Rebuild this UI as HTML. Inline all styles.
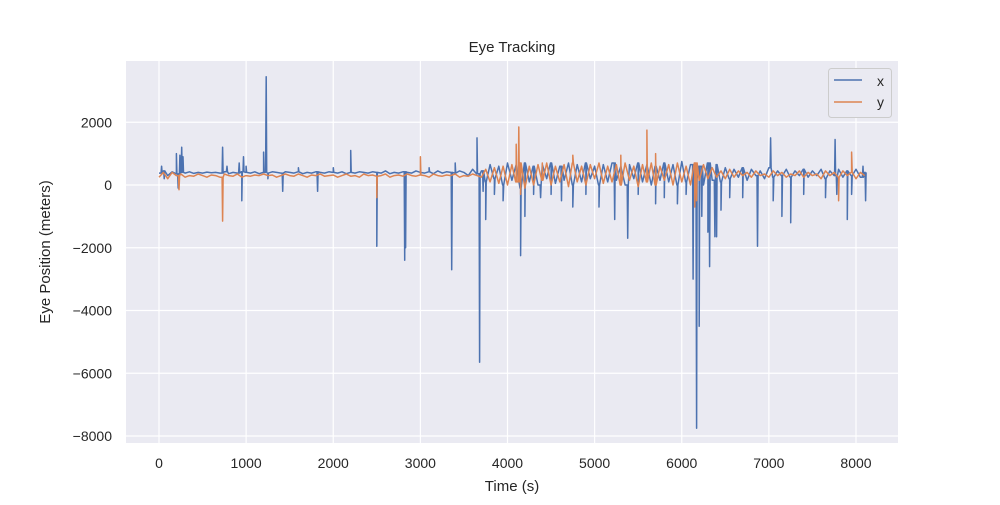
<!DOCTYPE html>
<html><head><meta charset="utf-8"><style>
body{margin:0;background:#fff;}
svg text{font-family:"Liberation Sans","DejaVu Sans",sans-serif;fill:#262626;}
</style></head><body>
<svg id="chart" width="1000" height="500" xmlns="http://www.w3.org/2000/svg">
<rect x="126" y="61" width="772" height="382" fill="#eaeaf2"/>
<g id="grid"></g>
<g id="plot"></g>
<g id="ticks"></g>
<text x="512" y="52" text-anchor="middle" font-size="15">Eye Tracking</text>
<text x="512" y="491" text-anchor="middle" font-size="15">Time (s)</text>
<text x="50" y="252" text-anchor="middle" font-size="15" transform="rotate(-90 50 252)">Eye Position (meters)</text>
<g>
<rect x="828.5" y="68.5" width="63" height="49" rx="3" fill="#eaeaf2" stroke="#cccccc"/>
<line x1="834" y1="80" x2="862" y2="80" stroke="#4c72b0" stroke-width="1.5"/>
<text x="877" y="86" font-size="14">x</text>
<line x1="834" y1="102" x2="862" y2="102" stroke="#dd8452" stroke-width="1.5"/>
<text x="877" y="107" font-size="14">y</text>
</g>
</svg>
<script>
const xTicks=[0,1000,2000,3000,4000,5000,6000,7000,8000];
const yTicks=[2000,0,-2000,-4000,-6000,-8000];
const yTickLabels=["2000","0","\u22122000","\u22124000","\u22126000","\u22128000"];
const baseStep=50;
// x baseline samples every 50 s from 0 to 8100
const xBase=[380,450,300,420,360,400,380,420,370,400,380,410,390,400,380,420,360,400,380,420,
400,380,420,360,400,380,420,400,380,420,400,380,420,360,400,380,420,400,380,420,
400,380,420,360,400,380,420,400,380,420,400,380,450,360,400,380,420,400,380,450,
400,380,420,360,450,380,420,400,380,450,400,300,500,360,450,100,650,200,600,0,
700,150,650,-100,700,100,600,0,650,200,700,50,600,150,700,0,650,100,700,200,
600,0,650,100,700,150,600,0,650,200,700,100,650,0,600,150,700,100,650,0,
750,100,650,200,600,0,700,150,650,100,550,200,500,250,550,150,500,300,450,200,
550,250,450,300,500,250,450,300,500,250,450,300,500,200,450,300,500,250,450,300,
500,250,400];
// y baseline samples every 50 s from 0 to 8100
const yBase=[250,400,200,400,300,350,250,300,280,350,300,250,320,300,250,350,300,280,350,250,
300,280,320,300,350,300,320,250,300,350,300,280,350,300,250,320,300,350,280,300,
320,250,300,350,280,300,250,350,300,320,280,300,350,250,300,320,280,350,300,280,
320,300,250,350,300,280,320,300,350,250,300,280,350,300,250,500,100,550,50,600,
0,650,100,700,-100,600,0,650,150,700,0,600,100,650,-50,700,100,600,0,650,
200,700,50,600,100,650,0,700,150,600,-50,650,100,700,0,600,150,650,0,700,
100,600,0,700,150,650,200,550,250,450,200,500,250,450,300,400,250,450,300,350,
250,450,300,400,250,350,300,450,250,400,300,350,200,450,300,400,250,450,300,400,
200,400,300];
const xSpikeT=[30,60,200,220,240,260,275,730,780,920,950,970,1000,1200,1230,1250,1420,1600,1820,2000,2200,2500,2820,2830,3100,3360,3400,3650,3680,3720,3750,3850,3950,4150,4200,4300,4380,4500,4620,4750,4900,5050,5230,5380,5500,5700,5800,5950,6050,6130,6170,6200,6230,6300,6320,6380,6400,6450,6550,6700,6870,7020,7050,7150,7250,7400,7650,7760,7780,7900,7950,8080,8110];
const xSpikeV=[600,200,1000,-100,950,1200,900,1200,600,700,-500,900,600,1050,3450,200,-200,550,-200,550,1100,-1950,-2400,-2000,550,-2700,700,1500,-5650,-200,-1100,-300,-500,-2250,-1000,-300,-400,-300,-500,-700,-300,-700,-1100,-1700,-300,-600,-400,-600,-300,-3000,-7750,-4500,-1000,-1500,-2600,-1650,-1650,-800,-400,-400,-1950,1500,-500,-1000,-1200,-300,-400,1450,-300,-1100,-300,600,-500];
const ySpikeT=[230,730,2500,3000,4100,4130,4150,4400,4750,5300,5600,5700,6150,6170,7800,7950];
const ySpikeV=[-150,-1150,-400,900,1300,1850,-300,700,950,950,1750,1000,-700,-500,-500,1050];
const X0=159,XS=697/8000,Y0=185,YS=62.75/2000;
const sx=v=>X0+v*XS, sy=v=>Y0-v*YS;
const NS="http://www.w3.org/2000/svg";
const grid=document.getElementById('grid'),ticks=document.getElementById('ticks'),plot=document.getElementById('plot');
xTicks.forEach(t=>{
  const l=document.createElementNS(NS,'line');
  l.setAttribute('x1',sx(t));l.setAttribute('x2',sx(t));l.setAttribute('y1',61);l.setAttribute('y2',443);
  l.setAttribute('stroke','#fff');l.setAttribute('stroke-width','1.2');
  
  
  grid.appendChild(l);
  const tx=document.createElementNS(NS,'text');
  tx.setAttribute('x',sx(t));tx.setAttribute('y',468);tx.setAttribute('text-anchor','middle');tx.setAttribute('font-size','14');
  tx.textContent=String(t);
  
  
  ticks.appendChild(tx);
});
yTicks.forEach((t,i)=>{
  const l=document.createElementNS(NS,'line');
  l.setAttribute('x1',126);l.setAttribute('x2',898);l.setAttribute('y1',sy(t));l.setAttribute('y2',sy(t));
  l.setAttribute('stroke','#fff');l.setAttribute('stroke-width','1.2');
  
  
  grid.appendChild(l);
  const tx=document.createElementNS(NS,'text');
  tx.setAttribute('x',112);tx.setAttribute('y',sy(t)+5);tx.setAttribute('text-anchor','end');tx.setAttribute('font-size','14');
  tx.textContent=yTickLabels[i];
  
  
  ticks.appendChild(tx);
});
function build(base,st,sv){
  const pts=[];
  base.forEach((v,i)=>pts.push([i*baseStep,v]));
  const n=Math.min(st.length,sv.length);
  for(let i=0;i<n;i++){
    const b=base[Math.min(base.length-1,Math.floor(st[i]/baseStep))];
    pts.push([st[i]-6,b],[st[i],sv[i]],[st[i]+6,b]);
  }
  pts.sort((a,b)=>a[0]-b[0]);
  return pts;
}
function line(pts,color,name){
  let d='';
  pts.forEach((p,i)=>{d+=(i?'L':'M')+sx(p[0]).toFixed(1)+','+sy(p[1]).toFixed(1);});
  const p=document.createElementNS(NS,'path');
  p.setAttribute('d',d);p.setAttribute('fill','none');p.setAttribute('stroke',color);p.setAttribute('stroke-width','1.5');p.setAttribute('stroke-linejoin','round');
  
  
  plot.appendChild(p);
}
line(build(xBase,xSpikeT,xSpikeV),'#4c72b0','series-x-line');
line(build(yBase,ySpikeT,ySpikeV),'#dd8452','series-y-line');
</script>
</body></html>
